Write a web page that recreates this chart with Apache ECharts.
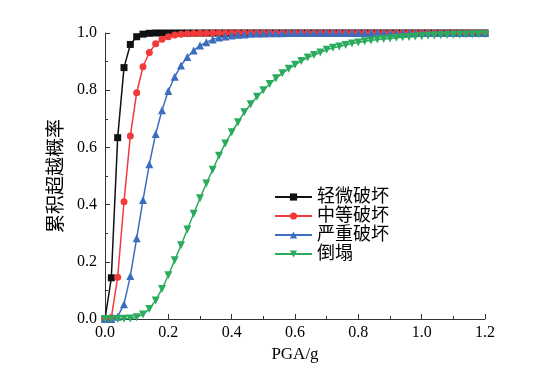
<!DOCTYPE html>
<html>
<head>
<meta charset="utf-8">
<script src="https://cdn.jsdelivr.net/npm/echarts@6/dist/echarts.min.js"></script>
<style>
  html, body { margin: 0; padding: 0; background: #fff; }
  #main { width: 551px; height: 375px; }
</style>
</head>
<body>
<div id="main"></div>
<script>
// PGA (g) at each computed point
var pga = [
    0, 0.02, 0.04, 0.06, 0.08, 0.10, 0.12, 0.14, 0.16, 0.18,
    0.20, 0.22, 0.24, 0.26, 0.28, 0.30, 0.32, 0.34, 0.36, 0.38,
    0.40, 0.42, 0.44, 0.46, 0.48, 0.50, 0.52, 0.54, 0.56, 0.58,
    0.60, 0.62, 0.64, 0.66, 0.68, 0.70, 0.72, 0.74, 0.76, 0.78,
    0.80, 0.82, 0.84, 0.86, 0.88, 0.90, 0.92, 0.94, 0.96, 0.98,
    1.00, 1.02, 1.04, 1.06, 1.08, 1.10, 1.12, 1.14, 1.16, 1.18,
    1.20
];

// 轻微破坏
var slight = [
    0, 0.144, 0.634, 0.879, 0.960, 0.987, 0.996, 0.999, 1, 1,
    1, 1, 1, 1, 1, 1, 1, 1, 1, 1,
    1, 1, 1, 1, 1, 1, 1, 1, 1, 1,
    1, 1, 1, 1, 1, 1, 1, 1, 1, 1,
    1, 1, 1, 1, 1, 1, 1, 1, 1, 1,
    1, 1, 1, 1, 1, 1, 1, 1, 1, 1,
    1
];

// 中等破坏
var moderate = [
    0, 0.005, 0.146, 0.410, 0.640, 0.791, 0.882, 0.932, 0.962, 0.978,
    0.987, 0.993, 0.996, 0.997, 0.998, 0.999, 0.999, 1, 1, 1,
    1, 1, 1, 1, 1, 1, 1, 1, 1, 1,
    1, 1, 1, 1, 1, 1, 1, 1, 1, 1,
    1, 1, 1, 1, 1, 1, 1, 1, 1, 1,
    1, 1, 1, 1, 1, 1, 1, 1, 1, 1,
    1
];

// 严重破坏
var severe = [
    0, 0, 0.008, 0.052, 0.150, 0.282, 0.416, 0.541, 0.647, 0.730,
    0.797, 0.847, 0.886, 0.916, 0.939, 0.956, 0.968, 0.977, 0.984, 0.988,
    0.991, 0.994, 0.995, 0.997, 0.998, 0.998, 0.999, 0.999, 0.999, 1,
    1, 1, 1, 1, 1, 1, 1, 1, 1, 1,
    1, 1, 1, 1, 1, 1, 1, 1, 1, 1,
    1, 1, 1, 1, 1, 1, 1, 1, 1, 1,
    1
];

// 倒塌
var collapse = [
    0, 0, 0, 0.001, 0.002, 0.006, 0.016, 0.035, 0.065, 0.105,
    0.153, 0.205, 0.258, 0.313, 0.368, 0.422, 0.474, 0.522, 0.571, 0.614,
    0.653, 0.688, 0.723, 0.751, 0.777, 0.800, 0.822, 0.842, 0.859, 0.875,
    0.889, 0.902, 0.914, 0.923, 0.932, 0.941, 0.948, 0.953, 0.958, 0.963,
    0.967, 0.971, 0.974, 0.977, 0.979, 0.981, 0.983, 0.985, 0.986, 0.988,
    0.989, 0.990, 0.991, 0.992, 0.993, 0.994, 0.994, 0.995, 0.995, 0.996,
    0.996
];

var names = ['轻微破坏', '中等破坏', '严重破坏', '倒塌'];

var FONT = '"Liberation Serif", "Noto Sans CJK SC", serif';

function pairs(ys) {
    return pga.map(function (x, i) { return [x, ys[i]]; });
}

function makeSeries(name, ys, color, symbol, size, rotate) {
    return {
        name: name,
        type: 'line',
        data: pairs(ys),
        symbol: symbol,
        symbolSize: size,
        symbolRotate: rotate || 0,
        showAllSymbol: true,
        lineStyle: { color: color, width: 1.5 },
        itemStyle: { color: color },
        emphasis: { disabled: true },
        animation: false
    };
}

var myChart = echarts.init(document.getElementById('main'));

var option = {
    backgroundColor: '#fff',
    animation: false,
    grid: {
        left: 105,
        right: 66,
        top: 33,
        bottom: 56
    },
    legend: {
        orient: 'vertical',
        left: 269,
        top: 183,
        itemWidth: 37,
        itemHeight: 9,
        itemGap: 1,
        data: names,
        textStyle: {
            fontFamily: FONT,
            fontSize: 18,
            color: '#000'
        }
    },
    xAxis: {
        type: 'value',
        min: 0,
        max: 1.2,
        interval: 0.2,
        name: 'PGA/g',
        nameLocation: 'middle',
        nameGap: 23,
        nameTextStyle: { fontFamily: FONT, fontSize: 17, color: '#000' },
        axisLine: { lineStyle: { color: '#333', width: 1 } },
        axisTick: { inside: true, length: 5, lineStyle: { color: '#333' } },
        minorTick: { show: true, splitNumber: 2, length: 3, lineStyle: { color: '#333' } },
        splitLine: { show: false },
        axisLabel: {
            fontFamily: FONT,
            fontSize: 16,
            color: '#000',
            margin: 6,
            formatter: function (v) { return v.toFixed(1); }
        }
    },
    yAxis: {
        type: 'value',
        min: 0,
        max: 1,
        interval: 0.2,
        name: '累积超越概率',
        nameLocation: 'middle',
        nameGap: 27,
        nameTextStyle: { fontFamily: FONT, fontSize: 19, color: '#000' },
        axisLine: { show: true, lineStyle: { color: '#333', width: 1 } },
        axisTick: { show: true, inside: true, length: 5, lineStyle: { color: '#333' } },
        minorTick: { show: true, splitNumber: 2, length: 3, lineStyle: { color: '#333' } },
        splitLine: { show: false },
        axisLabel: {
            fontFamily: FONT,
            fontSize: 16,
            color: '#000',
            margin: 8,
            formatter: function (v) { return v.toFixed(1); }
        }
    },
    series: [
        makeSeries(names[0], slight, '#111111', 'rect', 7),
        makeSeries(names[1], moderate, '#f23a3a', 'circle', 7),
        makeSeries(names[2], severe, '#3d6dbf', 'triangle', 8),
        makeSeries(names[3], collapse, '#2bab5e', 'triangle', 8, 180)
    ]
};

myChart.setOption(option);
</script>
</body>
</html>
